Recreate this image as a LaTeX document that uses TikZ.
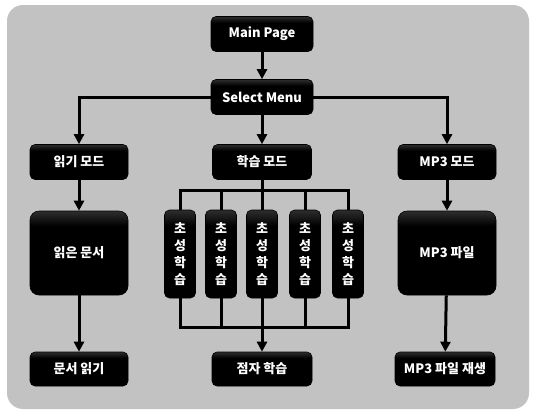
\documentclass[tikz,border=0pt]{standalone}
\usepackage{fontspec}
\setmainfont{Noto Sans CJK KR}
\usetikzlibrary{arrows.meta}

\pgfdeclareverticalshading{boxshade}{100bp}{color(0bp)=(black); color(66bp)=(black); color(76bp)=(black!80); color(100bp)=(black!62)}

\begin{document}
\begin{tikzpicture}[x=1pt,y=-1pt]
\tikzstyle{every node}+=[inner sep=0pt]
\tikzstyle{menubox}=[rounded corners=5pt, shading=boxshade, draw=black, line width=0.6pt,
  text=white, font=\bfseries\fontsize{13}{17}\selectfont, align=center]
\tikzstyle{wire}=[line width=3pt, line join=miter]
\tikzstyle{arr}=[wire, -{Triangle[length=10pt,width=10pt]}]

\useasboundingbox (0,0) rectangle (535,413);
\fill [black!24, rounded corners=16pt] (7,5) rectangle (529,409);

\node [menubox, minimum width=102pt, minimum height=35pt] (main) at (262,34) {Main Page};
\node [menubox, minimum width=102pt, minimum height=35pt] (select) at (262,97) {Select Menu};

\node [menubox, minimum width=98pt, minimum height=35pt] (readmode) at (79,162) {읽기 모드};
\node [menubox, minimum width=99pt, minimum height=35pt] (learnmode) at (262,162) {학습 모드};
\node [menubox, minimum width=98pt, minimum height=35pt] (mp3mode) at (447,162) {MP3 모드};

\node [menubox, minimum width=98pt, minimum height=84pt, rounded corners=9pt] (readdoc) at (79,253) {읽은 문서};
\node [menubox, minimum width=98pt, minimum height=84pt, rounded corners=9pt] (mp3file) at (447,253) {MP3 파일};

\foreach \i/\x in {1/180, 2/221, 3/262, 4/305, 5/348}
  \node [menubox, minimum width=31pt, minimum height=88pt] (cho\i) at (\x,254) {초\\성\\학\\습};

\node [menubox, minimum width=98pt, minimum height=34pt] (docread) at (79,369) {문서 읽기};
\node [menubox, minimum width=100pt, minimum height=34pt] (braille) at (262,369) {점자 학습};
\node [menubox, minimum width=100pt, minimum height=34pt] (mp3play) at (445,369) {MP3 파일 재생};

\coordinate (bustop) at (262,190);
\coordinate (busbot) at (262,327);

\draw [arr] (main) -- (select);
\draw [arr] (select.west) -| (readmode.north);
\draw [arr] (select.east) -| (mp3mode.north);
\draw [arr] (select) -- (learnmode);
\draw [arr] (readmode) -- (readdoc);
\draw [arr] (mp3mode) -- (mp3file);
\draw [arr] (readdoc) -- (docread);
\draw [arr] (mp3file) -- (mp3play);

\draw [wire] (learnmode) -- (bustop);
\foreach \i in {1,...,5} {
  \draw [wire] (cho\i.north) |- (bustop);
  \draw [wire] (cho\i.south) |- (busbot);
}
\draw [arr] (busbot) -- (braille);
\end{tikzpicture}
\end{document}
